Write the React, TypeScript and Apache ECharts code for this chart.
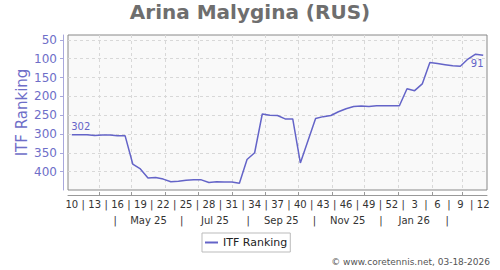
import React, { useEffect, useRef } from 'react';
import * as echarts from 'echarts';

// ---- data ----
const firstDate = '2025-03-07';
const ranks = [
  302, 302, 302, 304, 303, 303, 305, 305, 380, 393,
  417, 416, 420, 427, 426, 423, 422, 422, 429, 427,
  428, 428, 431, 368, 350, 247, 250, 251, 260, 260,
  377, 318, 259, 254, 251, 241, 233, 227, 226, 227,
  225, 225, 225, 225, 180, 185, 167, 110, 113, 116,
  119, 120, 101, 88, 91,
];
const weekLabels = ['10', '13', '16', '19', '22', '25', '28', '31', '34', '37', '40', '43', '46', '49', '52', '3', '6', '9', '12'];
const weekLabelStep = 3;
const monthStarts = [
  '2025-04-01', '2025-05-01', '2025-06-01', '2025-07-01', '2025-08-01', '2025-09-01',
  '2025-10-01', '2025-11-01', '2025-12-01', '2026-01-01', '2026-02-01', '2026-03-01',
];
const periodBounds = ['2025-04-16', '2025-06-16', '2025-08-16', '2025-10-16', '2025-12-16', '2026-02-15'];
const periodLabels = ['May 25', 'Jul 25', 'Sep 25', 'Nov 25', 'Jan 26'];
const yTicks = [50, 100, 150, 200, 250, 300, 350, 400];
const seriesName = 'ITF Ranking';
const titleText = 'Arina Malygina (RUS)';
const creditText = '\u00a9 www.coretennis.net, 03-18-2026';

// ---- helpers ----
const weekIndex = (d: string) => (Date.parse(d) - Date.parse(firstDate)) / (7 * 86400000);
const key = (v: number) => Number(v).toFixed(2);

const row1Map = new Map<string, string>();
weekLabels.forEach((lab, k) => {
  row1Map.set(key(k * weekLabelStep), lab);
  if (k < weekLabels.length - 1) row1Map.set(key(k * weekLabelStep + weekLabelStep / 2), '|');
});
const row1Values = Array.from(row1Map.keys()).map(Number);

const row2Map = new Map<string, string>();
periodBounds.forEach((d) => row2Map.set(key(weekIndex(d)), '|'));
periodLabels.forEach((lab, k) => {
  const mid = (weekIndex(periodBounds[k]) + weekIndex(periodBounds[k + 1])) / 2;
  row2Map.set(key(mid), lab);
});
const row2Values = Array.from(row2Map.keys()).map(Number);

const monthTickValues = monthStarts.map(weekIndex);

const FONT = 'DejaVu Sans';
const LINE = '#6464c8';
const AXIS_TXT = '#6e6ec8';

export default function App() {
  const ref = useRef<HTMLDivElement>(null);
  useEffect(() => {
    const chart = echarts.init(ref.current!, null, { renderer: 'svg' });
    const last = ranks.length - 1;
    const data = ranks.map((v, i) => {
      if (i === 0) {
        return { value: [i, v], label: { show: true, position: 'top', distance: 3, offset: [9, 0], formatter: String(v) } };
      }
      if (i === last) {
        return { value: [i, v], label: { show: true, position: 'bottom', distance: 3, offset: [-6, 0], formatter: String(v) } };
      }
      return { value: [i, v] };
    });
    chart.setOption({
      animation: false,
      textStyle: { fontFamily: FONT },
      title: [
        {
          text: titleText, left: 'center', top: 2, padding: 0,
          textStyle: { fontFamily: FONT, fontSize: 20, fontWeight: 'bold', color: '#6e6e6e' },
        },
        {
          text: creditText, right: 10, top: 257, padding: 0,
          textStyle: { fontFamily: FONT, fontSize: 9, fontWeight: 'normal', color: '#555' },
        },
      ],
      legend: {
        left: 202, top: 233,
        backgroundColor: '#fff', borderColor: '#bbb', borderWidth: 1, borderRadius: 0,
        padding: [4, 3, 4, 3],
        itemWidth: 13, itemHeight: 2, itemGap: 5,
        textStyle: { fontFamily: FONT, fontSize: 11, color: '#222' },
        data: [{ name: seriesName, icon: 'rect' }],
      },
      grid: {
        left: 68, right: 13, top: 35, bottom: 80,
        show: true, backgroundColor: '#f9f9f9', borderColor: '#888', borderWidth: 1,
        containLabel: false,
      },
      xAxis: [
        {
          type: 'value', min: -0.5, max: ranks.length - 0.5, position: 'bottom', offset: 5,
          axisLine: { show: true, onZero: false, lineStyle: { color: '#999', width: 1 } },
          axisTick: { show: true, inside: true, length: 3, customValues: monthTickValues, lineStyle: { color: '#999' } },
          axisLabel: {
            show: true, customValues: row1Values, margin: 4, fontSize: 10, color: '#333', fontFamily: FONT,
            formatter: (v: number) => row1Map.get(key(v)) ?? '',
          },
          splitLine: { show: true, lineStyle: { type: [3, 3], color: '#d8d8d8', width: 1 } },
        },
        {
          type: 'value', min: -0.5, max: ranks.length - 0.5, position: 'bottom', offset: 5,
          axisLine: { show: false, onZero: false }, axisTick: { show: false }, splitLine: { show: false },
          axisLabel: {
            show: true, customValues: row2Values, margin: 20, fontSize: 10, color: '#333', fontFamily: FONT,
            formatter: (v: number) => row2Map.get(key(v)) ?? '',
          },
        },
      ],
      yAxis: {
        type: 'value', inverse: true, min: 37, max: 449, offset: 5, position: 'left',
        name: seriesName, nameLocation: 'middle', nameGap: 34, nameMoveOverlap: false,
        nameTextStyle: { fontFamily: FONT, fontSize: 15, color: AXIS_TXT },
        axisLine: { show: true, onZero: false, lineStyle: { color: '#a8a8dc', width: 1 } },
        axisTick: { show: true, length: 3, customValues: yTicks, lineStyle: { color: '#a8a8dc' } },
        axisLabel: { show: true, customValues: yTicks, margin: 6, fontSize: 12, color: AXIS_TXT, fontFamily: FONT },
        splitLine: { show: true, lineStyle: { type: [3, 3], color: '#d8d8d8', width: 1 } },
      },
      series: [
        {
          name: seriesName, type: 'line', xAxisIndex: 0, yAxisIndex: 0,
          data, symbol: 'circle', symbolSize: 0, showSymbol: true,
          lineStyle: { color: LINE, width: 1.5 }, itemStyle: { color: LINE },
          label: { fontFamily: FONT, fontSize: 10, color: LINE },
          emphasis: { disabled: true },
        },
      ],
    });
    return () => chart.dispose();
  }, []);
  return (
    <div
      ref={ref}
      style={{ position: 'fixed', left: 0, top: 0, width: 500, height: 270, background: '#fff' }}
    />
  );
}
